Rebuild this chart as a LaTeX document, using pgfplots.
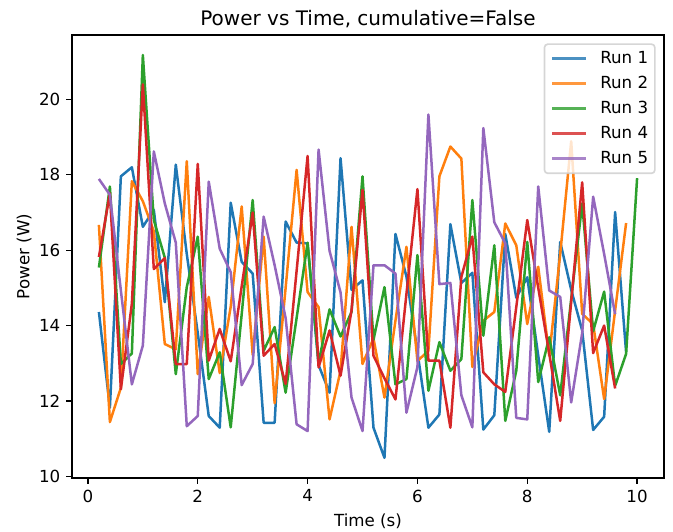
\documentclass[border=0pt]{standalone}
\usepackage{fontspec}
\setmainfont{DejaVu Sans}
\usepackage{pgfplots}
\pgfplotsset{compat=1.18}
\definecolor{c0}{HTML}{1F77B4}
\definecolor{c1}{HTML}{FF7F0E}
\definecolor{c2}{HTML}{2CA02C}
\definecolor{c3}{HTML}{D62728}
\definecolor{c4}{HTML}{9467BD}
\begin{document}
\begin{tikzpicture}
\begin{axis}[
  scale only axis,
  width=355.2pt, height=265.8pt,
  xmin=-0.29, xmax=10.49, ymin=9.955, ymax=21.71,
  xtick={0,2,4,6,8,10}, ytick={10,12,14,16,18,20},
  tick pos=left, tick align=outside,
  major tick length=3.5pt,
  every tick/.style={black, line width=0.8pt},
  axis line style={line width=0.8pt},
  /pgf/number format/assume math mode=true,
  ticklabel style={font=\fontsize{10}{12}\selectfont},
  title={Power vs Time, cumulative=False},
  title style={font=\fontsize{12}{14.4}\selectfont, at={(axis description cs:0.5,1)}, anchor=base, inner sep=0pt, yshift=-0.6pt},
  xlabel={Time (s)}, ylabel={Power (W)},
  label style={font=\fontsize{10}{12}\selectfont},
  xlabel style={at={(axis description cs:0.5,-0.08)}, anchor=north, inner sep=0pt},
  ylabel style={at={(axis description cs:-0.0676,0.5)}, anchor=south, rotate=0, inner sep=0pt},
  every axis plot/.append style={line width=1.5pt, line join=round},
  legend cell align=left,
  legend image code/.code={\draw[#1] (0pt,0pt) -- (20pt,0pt);},
  legend style={at={(axis description cs:1,1)}, anchor=north east, xshift=-5pt, yshift=-5pt,
    draw=black!20, draw opacity=0.8, line width=1pt, rounded corners=2pt,
    fill=white, fill opacity=0.8, text opacity=1,
    font=\fontsize{10}{12}\selectfont,
    inner xsep=4pt, inner ysep=4pt, row sep=5.5pt, column sep=8pt,
    nodes={inner sep=0pt, text height=7.5pt, text depth=2pt}},
]
\addplot[c0] coordinates {
(0.2,14.36)(0.4,11.82)(0.6,17.96)(0.8,18.2)(1.0,16.62)(1.2,17.07)(1.4,14.62)(1.6,18.27)(1.8,15.9)(2.0,13.8)
(2.2,11.6)(2.4,11.29)(2.6,17.26)(2.8,15.69)(3.0,15.38)(3.2,11.42)(3.4,11.42)(3.6,16.76)(3.8,16.2)(4.0,16.18)
(4.2,12.95)(4.4,12.22)(4.6,18.44)(4.8,14.95)(5.0,15.2)(5.2,11.29)(5.4,10.49)(5.6,16.43)(5.8,15.3)(6.0,13.3)
(6.2,11.29)(6.4,11.64)(6.6,16.69)(6.8,15.13)(7.0,15.4)(7.2,11.24)(7.4,11.62)(7.6,16.43)(7.8,14.74)(8.0,15.28)
(8.2,13.2)(8.4,11.18)(8.6,16.22)(8.8,14.95)(9.0,13.87)(9.2,11.23)(9.4,11.58)(9.6,17.01)(9.8,13.29)};
\addlegendentry{Run 1}
\addplot[c1] coordinates {
(0.2,16.67)(0.4,11.44)(0.6,12.35)(0.8,17.83)(1.0,17.3)(1.2,16.5)(1.4,13.51)(1.6,13.37)(1.8,18.36)(2.0,12.71)
(2.2,14.76)(2.4,12.74)(2.6,14.5)(2.8,17.16)(3.0,13.22)(3.2,16.36)(3.4,11.94)(3.6,15.0)(3.8,18.13)(4.0,14.89)
(4.2,14.49)(4.4,11.51)(4.6,12.8)(4.8,16.62)(5.0,12.98)(5.2,13.66)(5.4,12.09)(5.6,14.13)(5.8,16.09)(6.0,13.06)
(6.2,13.33)(6.4,17.96)(6.6,18.75)(6.8,18.43)(7.0,12.9)(7.2,14.13)(7.4,14.36)(7.6,16.71)(7.8,16.13)(8.0,14.04)
(8.2,15.56)(8.4,13.2)(8.6,15.9)(8.8,18.89)(9.0,14.31)(9.2,14.04)(9.4,12.05)(9.6,14.4)(9.8,16.72)};
\addlegendentry{Run 2}
\addplot[c2] coordinates {
(0.2,15.54)(0.4,17.69)(0.6,12.98)(0.8,13.26)(1.0,21.18)(1.2,16.8)(1.4,15.8)(1.6,12.71)(1.8,15.02)(2.0,16.36)
(2.2,12.58)(2.4,13.29)(2.6,11.3)(2.8,14.3)(3.0,17.33)(3.2,13.33)(3.4,13.96)(3.6,12.22)(3.8,14.2)(4.0,16.2)
(4.2,13.02)(4.4,14.43)(4.6,13.71)(4.8,14.36)(5.0,17.96)(5.2,13.62)(5.4,15.02)(5.6,12.44)(5.8,12.58)(6.0,15.87)
(6.2,12.27)(6.4,13.56)(6.6,12.8)(6.8,13.11)(7.0,17.33)(7.2,13.73)(7.4,16.13)(7.6,11.47)(7.8,12.8)(8.0,16.22)
(8.2,12.5)(8.4,13.69)(8.6,12.15)(8.8,14.7)(9.0,17.24)(9.2,13.85)(9.4,14.9)(9.6,12.4)(9.8,13.25)(10.0,17.91)};
\addlegendentry{Run 3}
\addplot[c3] coordinates {
(0.2,15.82)(0.4,17.51)(0.6,12.31)(0.8,14.58)(1.0,20.4)(1.2,15.5)(1.4,15.79)(1.6,12.98)(1.8,12.98)(2.0,18.29)
(2.2,13.07)(2.4,13.91)(2.6,13.05)(2.8,15.04)(3.0,17.0)(3.2,13.2)(3.4,13.51)(3.6,12.45)(3.8,15.45)(4.0,18.5)
(4.2,12.89)(4.4,13.87)(4.6,12.67)(4.8,14.4)(5.0,17.6)(5.2,13.2)(5.4,12.6)(5.6,12.04)(5.8,14.84)(6.0,17.62)
(6.2,13.07)(6.4,13.07)(6.6,11.29)(6.8,15.29)(7.0,16.36)(7.2,12.76)(7.4,12.44)(7.6,12.24)(7.8,14.49)(8.0,16.8)
(8.2,15.0)(8.4,13.26)(8.6,11.47)(8.8,14.63)(9.0,17.8)(9.2,13.27)(9.4,14.0)(9.6,12.33)};
\addlegendentry{Run 4}
\addplot[c4] coordinates {
(0.2,17.89)(0.4,17.47)(0.6,14.93)(0.8,12.44)(1.0,13.47)(1.2,18.62)(1.4,17.24)(1.6,16.2)(1.8,11.33)(2.0,11.6)
(2.2,17.82)(2.4,16.04)(2.6,15.42)(2.8,12.42)(3.0,12.98)(3.2,16.89)(3.4,15.6)(3.6,14.2)(3.8,11.38)(4.0,11.2)
(4.2,18.67)(4.4,15.98)(4.6,14.88)(4.8,12.09)(5.0,11.2)(5.2,15.6)(5.4,15.6)(5.6,15.38)(5.8,11.69)(6.0,12.9)
(6.2,19.6)(6.4,15.1)(6.6,15.13)(6.8,12.15)(7.0,11.3)(7.2,19.24)(7.4,16.74)(7.6,16.18)(7.8,11.55)(8.0,11.51)
(8.2,17.69)(8.4,14.93)(8.6,14.76)(8.8,11.96)(9.0,13.8)(9.2,17.42)(9.4,15.9)(9.6,14.3)};
\addlegendentry{Run 5}
\end{axis}
\pgfresetboundingbox
\path ([shift={(-43.2pt,-31.8pt)}]current axis.south west) rectangle ([shift={(5.4pt,21pt)}]current axis.north east);
\end{tikzpicture}
\end{document}
